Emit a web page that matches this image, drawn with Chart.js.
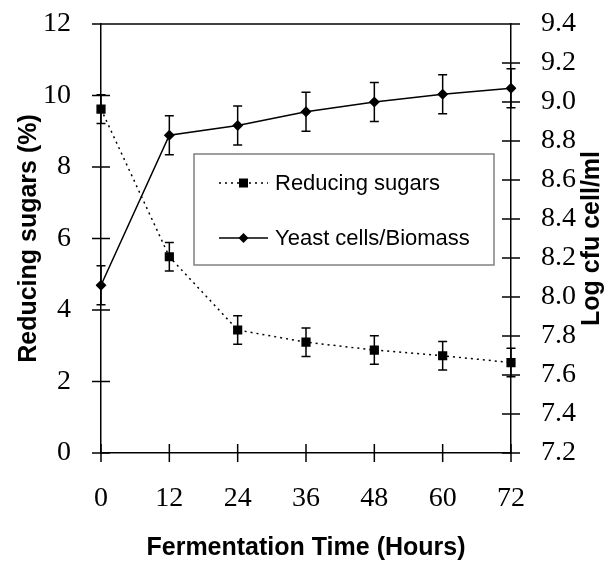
<!DOCTYPE html>
<html>
<head>
<meta charset="utf-8">
<script src="https://cdn.jsdelivr.net/npm/chart.js@4"></script>
<style>
  html, body { margin: 0; padding: 0; background: #fff; }
  #wrap { width: 616px; height: 563px; }
</style>
</head>
<body>
<div id="wrap"><canvas id="viz"></canvas></div>
<script>
// values
const hours = ['0', '12', '24', '36', '48', '60', '72'];
const reducingSugars = [9.62, 5.49, 3.44, 3.10, 2.88, 2.72, 2.53];
const sugarsErr = [0.4, 0.4, 0.4, 0.4, 0.4, 0.4, 0.4];
const yeastLog = [8.06, 8.83, 8.88, 8.95, 9.00, 9.04, 9.07];
const yeastErr = [0.1, 0.1, 0.1, 0.1, 0.1, 0.1, 0.1];
const errors = [sugarsErr, yeastErr];
const rightTitle = 'Log cfu cell/ml';

const serif = '"Liberation Serif", "Times New Roman", serif';
const sans = '"Liberation Sans", Arial, sans-serif';

// frame + ticks that cross the axis lines, right title read bottom-up
const frameAndTicks = {
  id: 'frameAndTicks',
  afterDraw(chart) {
    const { ctx, chartArea: a, scales } = chart;
    const half = 9;
    ctx.save();
    ctx.strokeStyle = '#000';
    ctx.lineWidth = 1.5;
    ctx.beginPath();
    ctx.moveTo(a.left, a.top);
    ctx.lineTo(a.right, a.top);
    ctx.stroke();
    scales.y.ticks.forEach(t => {
      const py = scales.y.getPixelForValue(t.value);
      ctx.beginPath();
      ctx.moveTo(a.left - half, py);
      ctx.lineTo(t.value === 12 ? a.left : a.left + half, py);
      ctx.stroke();
    });
    scales.y1.ticks.forEach(t => {
      const py = scales.y1.getPixelForValue(t.value);
      ctx.beginPath();
      ctx.moveTo(Math.abs(t.value - 9.4) < 1e-6 ? a.right : a.right - half, py);
      ctx.lineTo(a.right + half, py);
      ctx.stroke();
    });
    scales.x.ticks.forEach((t, i) => {
      const px = scales.x.getPixelForTick(i);
      ctx.beginPath();
      ctx.moveTo(px, a.bottom - half);
      ctx.lineTo(px, a.bottom + half);
      ctx.stroke();
    });
    ctx.translate(592, (a.top + a.bottom) / 2);
    ctx.rotate(-Math.PI / 2);
    ctx.fillStyle = '#000';
    ctx.font = 'bold 25px ' + sans;
    ctx.textAlign = 'center';
    ctx.textBaseline = 'middle';
    ctx.fillText(rightTitle, 0, 0);
    ctx.restore();
  }
};

// vertical error bars with caps
const errorBars = {
  id: 'errorBars',
  afterDatasetsDraw(chart) {
    const ctx = chart.ctx;
    ctx.save();
    ctx.strokeStyle = '#000';
    ctx.lineWidth = 1.5;
    chart.data.datasets.forEach((ds, di) => {
      const yScale = chart.scales[ds.yAxisID];
      const meta = chart.getDatasetMeta(di);
      ds.data.forEach((v, i) => {
        const px = meta.data[i].x;
        const top = yScale.getPixelForValue(v + errors[di][i]);
        const bot = yScale.getPixelForValue(v - errors[di][i]);
        ctx.beginPath();
        ctx.moveTo(px, top); ctx.lineTo(px, bot);
        ctx.moveTo(px - 4.5, top); ctx.lineTo(px + 4.5, top);
        ctx.moveTo(px - 4.5, bot); ctx.lineTo(px + 4.5, bot);
        ctx.stroke();
      });
    });
    ctx.restore();
  }
};

// boxed legend inside the plot
const boxLegend = {
  id: 'boxLegend',
  afterDraw(chart) {
    const ctx = chart.ctx;
    const box = { x: 194, y: 154, w: 300, h: 111 };
    const rows = [183, 238];
    ctx.save();
    ctx.strokeStyle = '#808080';
    ctx.lineWidth = 1.5;
    ctx.strokeRect(box.x, box.y, box.w, box.h);
    chart.data.datasets.forEach((ds, i) => {
      const y = rows[i];
      ctx.strokeStyle = '#000';
      ctx.lineWidth = 1.5;
      ctx.setLineDash(ds.borderDash || []);
      ctx.beginPath();
      ctx.moveTo(219, y);
      ctx.lineTo(268, y);
      ctx.stroke();
      ctx.setLineDash([]);
      ctx.fillStyle = '#000';
      if (ds.pointStyle === 'rect') {
        ctx.fillRect(243.5 - 4.5, y - 4.5, 9, 9);
      } else {
        ctx.beginPath();
        ctx.moveTo(243.5, y - 5); ctx.lineTo(248.5, y);
        ctx.lineTo(243.5, y + 5); ctx.lineTo(238.5, y);
        ctx.closePath();
        ctx.fill();
      }
      ctx.font = '22px ' + sans;
      ctx.textBaseline = 'middle';
      ctx.textAlign = 'left';
      ctx.fillText(ds.label, 275, y + 1);
    });
    ctx.restore();
  }
};

const noPad = s => { s.paddingTop = 0; s.paddingBottom = 0; };

const ctx = document.getElementById('viz');
new Chart(ctx, {
  type: 'line',
  data: {
    labels: hours,
    datasets: [{
      label: 'Reducing sugars',
      data: reducingSugars,
      yAxisID: 'y',
      borderColor: '#000',
      backgroundColor: '#000',
      borderWidth: 1.5,
      borderDash: [2, 4],
      pointStyle: 'rect',
      pointRadius: 6.5,
      pointBorderWidth: 0,
      tension: 0
    }, {
      label: 'Yeast cells/Biomass',
      data: yeastLog,
      yAxisID: 'y1',
      borderColor: '#000',
      backgroundColor: '#000',
      borderWidth: 1.5,
      pointStyle: 'rectRot',
      pointRadius: 5.5,
      pointBorderWidth: 0,
      tension: 0
    }]
  },
  options: {
    responsive: true,
    maintainAspectRatio: false,
    animation: false,
    layout: { padding: { top: 24, left: 0, right: 0, bottom: 0 } },
    plugins: { legend: { display: false }, tooltip: { enabled: false } },
    scales: {
      x: {
        type: 'category',
        offset: false,
        grid: { display: false },
        border: { display: true, color: '#000', width: 1.5 },
        ticks: { color: '#000', font: { family: serif, size: 28 }, padding: 21, maxRotation: 0 },
        title: {
          display: true, text: 'Fermentation Time (Hours)', color: '#000',
          font: { family: sans, size: 25, weight: 'bold' }, padding: { top: 0, bottom: 0 }
        },
        afterFit(s) { s.height = 110; s.paddingLeft = 0; s.paddingRight = 0; }
      },
      y: {
        position: 'left',
        min: 0, max: 12,
        grid: { display: false },
        border: { display: true, color: '#000', width: 1.5 },
        ticks: { stepSize: 2, color: '#000', font: { family: serif, size: 28 }, padding: 22 },
        title: {
          display: true, text: 'Reducing sugars (%)', color: '#000',
          font: { family: sans, size: 25, weight: 'bold' }, padding: { top: 14, bottom: 0 }
        },
        afterFit(s) { s.width = 101; noPad(s); }
      },
      y1: {
        position: 'right',
        min: 7.2, max: 9.4,
        grid: { display: false },
        border: { display: true, color: '#000', width: 1.5 },
        ticks: {
          stepSize: 0.2, color: '#000', font: { family: serif, size: 28 }, padding: 22,
          callback: v => Number(v).toFixed(1)
        },
        title: { display: false },
        afterFit(s) { s.width = 105; noPad(s); }
      }
    }
  },
  plugins: [frameAndTicks, errorBars, boxLegend]
});
</script>
</body>
</html>
